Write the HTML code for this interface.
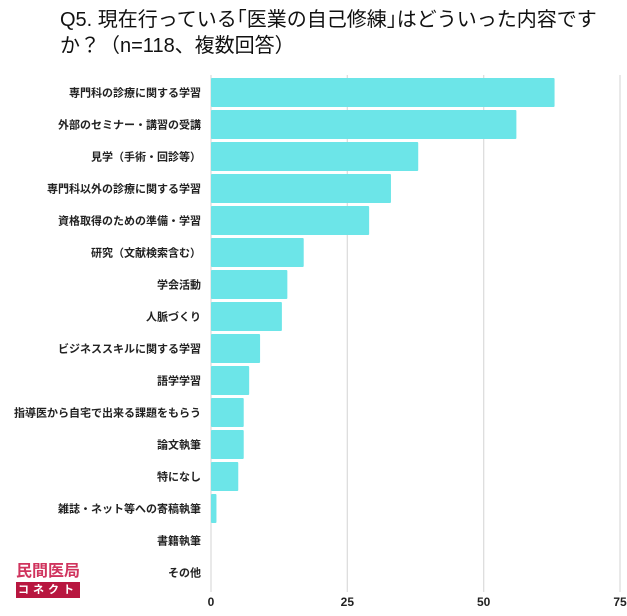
<!DOCTYPE html>
<html><head><meta charset="utf-8"><style>
body{margin:0;background:#fff;font-family:"Liberation Sans","Noto Sans CJK JP",sans-serif;}
#wrap{position:relative;width:627px;height:616px;overflow:hidden;}
#title{position:absolute;left:60px;top:7px;font-size:20px;line-height:26px;color:#111;white-space:nowrap;}
</style></head><body>
<div id="wrap">
<div id="title">Q5. 現在行っている｢医業の自己修練｣はどういった内容です<br>か？（n=118、複数回答）</div>
<svg id="chart" width="627" height="616" style="position:absolute;left:0;top:0"></svg>
<div style="position:absolute;left:16px;top:562px;width:64px;">
<div style="color:#d0345e;font-size:16px;line-height:20px;font-weight:bold;">民間医局</div>
<div style="background:#b8163f;color:#fff;font-size:11px;line-height:16px;text-align:center;letter-spacing:4px;font-weight:bold;">コネクト</div>
</div>
</div>
<script>
const categories=["専門科の診療に関する学習","外部のセミナー・講習の受講","見学（手術・回診等）","専門科以外の診療に関する学習","資格取得のための準備・学習","研究（文献検索含む）","学会活動","人脈づくり","ビジネススキルに関する学習","語学学習","指導医から自宅で出来る課題をもらう","論文執筆","特になし","雑誌・ネット等への寄稿執筆","書籍執筆","その他"];
const values=[63,56,38,33,29,17,14,13,9,7,6,6,5,1,0,0];
const ticks=[0,25,50,75];
const svg=document.getElementById('chart');
const NS='http://www.w3.org/2000/svg';
const x0=211,pxPer=(620-211)/75,rowTop=78,pitch=32,barH=29;
const xs=v=>x0+v*pxPer;
const ys=i=>rowTop+i*pitch;
function mk(t,a){const e=document.createElementNS(NS,t);for(const k in a)e.setAttribute(k,a[k]);svg.appendChild(e);return e;}
ticks.forEach(t=>{
const l=mk('line',{x1:xs(t),x2:xs(t),y1:75,y2:592,stroke:'#ddd','stroke-width':1.3});


const tx=mk('text',{x:xs(t),y:606,'text-anchor':'middle','font-size':12,'font-weight':'bold',fill:'#222'});
tx.textContent=t;


});
categories.forEach((c,i)=>{
const tx=mk('text',{x:201,y:ys(i)+barH/2+4,'text-anchor':'end','font-size':11,'font-weight':'bold',fill:'#222'});
tx.textContent=c;


if(values[i]>0){
const r=mk('rect',{x:x0,y:ys(i),width:xs(values[i])-x0,height:barH,fill:'#6ce5e8',rx:1});


}
});
</script>
</body></html>
